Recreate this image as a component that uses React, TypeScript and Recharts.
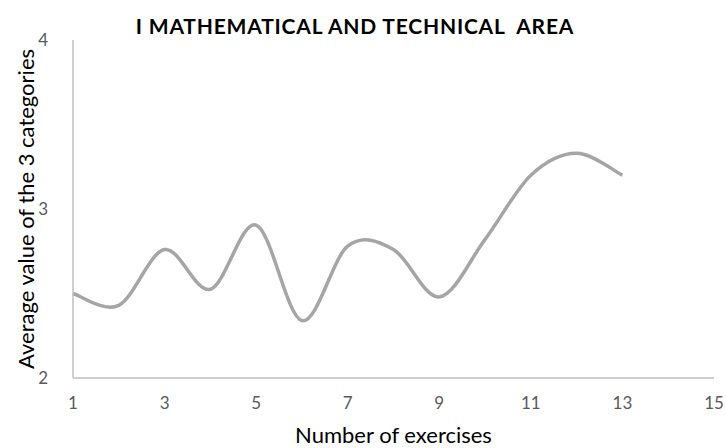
import { LineChart, Line, XAxis, YAxis, Label } from 'recharts';

const exercises = [1, 2, 3, 4, 5, 6, 7, 8, 9, 10, 11, 12, 13];
const averages = [2.5, 2.43, 2.76, 2.525, 2.905, 2.34, 2.78, 2.76, 2.48, 2.82, 3.2, 3.33, 3.2];
const xTicks = [1, 3, 5, 7, 9, 11, 13, 15];
const yTicks = [2, 3, 4];

const data = exercises.map((x, i) => ({ x, avg: averages[i] }));

// Excel-style smoothed line (Catmull-Rom through the points)
function smoothCurve(context: any) {
  let pts: number[][] = [];
  return {
    areaStart() {},
    areaEnd() {},
    lineStart() {
      pts = [];
    },
    point(x: number, y: number) {
      pts.push([+x, +y]);
    },
    lineEnd() {
      if (!pts.length) return;
      context.moveTo(pts[0][0], pts[0][1]);
      for (let i = 0; i < pts.length - 1; i++) {
        const p0 = pts[Math.max(0, i - 1)];
        const p1 = pts[i];
        const p2 = pts[i + 1];
        const p3 = pts[Math.min(pts.length - 1, i + 2)];
        context.bezierCurveTo(
          p1[0] + (p2[0] - p0[0]) / 6,
          p1[1] + (p2[1] - p0[1]) / 6,
          p2[0] - (p3[0] - p1[0]) / 6,
          p2[1] - (p3[1] - p1[1]) / 6,
          p2[0],
          p2[1]
        );
      }
    },
  };
}

const font = 'Lato, "Open Sans", sans-serif';

export default function App() {
  return (
    <div style={{ position: 'absolute', left: 0, top: 0, width: 726, height: 448, background: '#fff', fontFamily: font }}>
      <div
        style={{
          position: 'absolute',
          top: 12,
          left: 0,
          width: 710,
          textAlign: 'center',
          fontWeight: 700,
          fontSize: 21,
          lineHeight: '28px',
          letterSpacing: 0.8,
          color: '#000',
          whiteSpace: 'pre',
        }}
      >
        I MATHEMATICAL AND TECHNICAL  AREA
      </div>
      <LineChart width={726} height={448} data={data} margin={{ top: 40, right: 12, bottom: 0, left: 0 }}>
        <XAxis
          dataKey="x"
          type="number"
          domain={[1, 15]}
          ticks={xTicks}
          interval={0}
          height={70}
          tickLine={false}
          axisLine={{ stroke: '#bfbfbf', strokeWidth: 1.5 }}
          tick={{ fill: '#595959', fontSize: 17, fontFamily: font }}
          tickMargin={13}
        >
          <Label value="Number of exercises" position="insideBottom" offset={0} dy={-5} style={{ fontSize: 22, fill: '#000', fontFamily: font }} />
        </XAxis>
        <YAxis
          type="number"
          domain={[2, 4]}
          ticks={yTicks}
          width={73}
          tickLine={false}
          axisLine={{ stroke: '#bfbfbf', strokeWidth: 1.5 }}
          tick={{ fill: '#595959', fontSize: 17, fontFamily: font }}
          tickMargin={19}
        >
          <Label
            value="Average value of the 3 categories"
            angle={-90}
            position="insideLeft"
            offset={0}
            dx={26}
            style={{ fontSize: 22, fill: '#000', fontFamily: font, textAnchor: 'middle' }}
          />
        </YAxis>
        <Line
          dataKey="avg"
          type={smoothCurve as any}
          stroke="#a5a5a5"
          strokeWidth={3.5}
          dot={false}
          activeDot={false}
          isAnimationActive={false}
        />
      </LineChart>
    </div>
  );
}
